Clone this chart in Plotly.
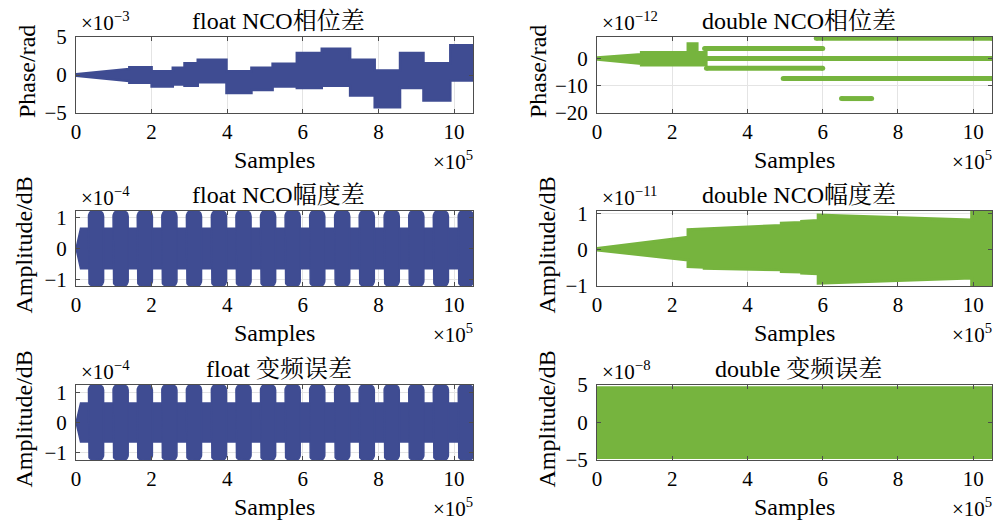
import numpy as np
import plotly.graph_objects as go

W, H = 996, 521
BLUE = "#3f4c92"
GREEN = "#76b43e"
FONT = "Liberation Serif, 'Noto Serif CJK SC', 'Noto Sans CJK SC', serif"

X_SCALE = 1e5          # x values below are in units of 1e5 samples
X_MAX = 10.5

# ---------------- data ----------------
# Panel 1: float NCO phase difference (units 1e-3 rad), stepped envelope
fp_edges = [0, 1.41, 2.0, 2.56, 2.87, 3.22, 3.98, 4.64, 5.2, 5.84, 6.5, 7.25, 7.9, 8.57, 9.19, 9.9, 10.5]
fp_hi = [0.8, 1.03, 0.5, 0.95, 1.56, 2.0, 0.5, 0.95, 1.48, 2.9, 3.46, 2.0, 0.6, 2.9, 1.56, 3.9]
fp_lo = [-0.8, -1.03, -1.5, -1.25, -1.4, -0.95, -2.36, -1.96, -1.5, -1.7, -1.4, -2.7, -4.25, -1.7, -3.37, -0.73]
fp_first = 0.1          # half-width at sample 0

# Panel 2: double NCO phase difference (units 1e-12 rad)
dp_edges = [0, 1.18, 2.42, 2.66, 2.9]
dp_hi_a = [0.3, 2.2, 5.4, 2.2]
dp_hi_b = [1.5, 2.2, 5.4, 2.2]
dp_lo_a = [-0.3, -2.4, -2.4, -2.4]
dp_lo_b = [-1.8, -2.4, -2.4, -2.4]
dp_levels = [7.4, 3.7, 0.0, -3.6, -7.3, -14.7]
dp_start = [5.83, 2.86, 2.86, 2.91, 4.95, 6.5]
dp_end = [10.5, 6.0, 10.5, 6.0, 10.5, 7.3]

# Panel 3: float NCO amplitude difference (units 1e-4 dB)
fa_lobe_start = [0.33, 0.98, 1.62, 2.27, 2.92, 3.58, 4.23, 4.88, 5.53, 6.18, 6.84, 7.49, 8.15, 8.80, 9.45, 10.11]
fa_lobe_width = 0.40
fa_lobe_peak = 1.2
fa_base = 0.65
fa_ramp_end = 0.12

# Panel 4: double NCO amplitude difference (units 1e-11 dB)
dm_edges = [0, 2.42, 2.85, 4.9, 5.44, 5.88, 9.96, 10.5]
dm_hi_a = [0.02, 0.54, 0.58, 0.72, 0.77, 0.95, 1.11]
dm_hi_b = [0.33, 0.56, 0.66, 0.74, 0.80, 0.81, 1.11]
dm_lo_a = [-0.02, -0.48, -0.53, -0.62, -0.66, -0.94, -1.08]
dm_lo_b = [-0.3, -0.50, -0.57, -0.63, -0.68, -0.80, -1.08]

# Panel 5: float conversion error (units 1e-4 dB)
fc_lobe_start = [0.33, 0.98, 1.62, 2.27, 2.92, 3.58, 4.23, 4.88, 5.53, 6.18, 6.84, 7.49, 8.15, 8.80, 9.45, 10.11]
fc_lobe_width = 0.40
fc_lobe_peak = 1.25
fc_base = 0.65
fc_ramp_end = 0.12

# Panel 6: double conversion error (units 1e-8 dB)
dc_edges = [0, 10.5]
dc_hi = [4.75]
dc_lo = [-4.75]

# axis settings per panel
y_ranges = [[-5, 5], [-20, 7.9], [-1.2, 1.2], [-1.02, 1.06], [-1.25, 1.25], [-5, 5]]
y_ticks = [[-5, 0, 5], [-20, -10, 0], [-1, 0, 1], [-1, 0, 1], [-1, 0, 1], [-5, 0, 5]]
y_exp = [-3, -12, -4, -11, -4, -8]
x_ticks = [0, 2, 4, 6, 8, 10]
titles = ["float NCO相位差", "double NCO相位差", "float NCO幅度差", "double NCO幅度差",
          "float 变频误差", "double 变频误差"]
ylabels = ["Phase/rad", "Phase/rad", "Amplitude/dB", "Amplitude/dB", "Amplitude/dB", "Amplitude/dB"]


# ---------------- helpers ----------------
def seg_polygon(edges, hi_a, hi_b, lo_a, lo_b):
    xt, yt, xb, yb = [], [], [], []
    for i in range(len(edges) - 1):
        xt += [edges[i], edges[i + 1]]
        yt += [hi_a[i], hi_b[i]]
        xb += [edges[i], edges[i + 1]]
        yb += [lo_a[i], lo_b[i]]
    return xt + xb[::-1] + [xt[0]], yt + yb[::-1] + [yt[0]]


def rrect(x0, x1, y0, y1, rx, ry, n=7):
    xs, ys = [], []
    centers = [(x1 - rx, y1 - ry, 0), (x0 + rx, y1 - ry, 90), (x0 + rx, y0 + ry, 180), (x1 - rx, y0 + ry, 270)]
    for cx, cy, a0 in centers:
        for t in np.linspace(np.radians(a0), np.radians(a0 + 90), n):
            xs.append(cx + rx * np.cos(t))
            ys.append(cy + ry * np.sin(t))
    xs.append(xs[0]); ys.append(ys[0])
    return xs, ys


fig = go.Figure()


def axname(p, kind):
    return kind if p == 1 else f"{kind}{p}"


def add_poly(p, xs, ys, color, scale, lw=1.5):
    fig.add_trace(go.Scatter(
        x=[None if v is None else v * X_SCALE for v in xs],
        y=[None if v is None else v * scale for v in ys],
        mode="lines", fill="toself", fillcolor=color,
        line=dict(color=color, width=lw), hoverinfo="skip", showlegend=False,
        xaxis=axname(p, "x"), yaxis=axname(p, "y")))


def add_lobes(p, starts, width, peak, base, ramp_end, scale):
    add_poly(p, [0, ramp_end, X_MAX, X_MAX, ramp_end, 0], [0, base, base, -base, -base, 0], BLUE, scale)
    xs, ys = [], []
    for s in starts:
        e = min(s + width, X_MAX + 0.02)
        lx, ly = rrect(s, e, -peak, peak, 0.11, 0.17)
        xs += lx + [None]
        ys += ly + [None]
    add_poly(p, xs, ys, BLUE, scale)


scales = [10.0 ** e for e in y_exp]

# Panel 1
xs, ys = seg_polygon(fp_edges, [fp_first] + fp_hi[1:], fp_hi, [-fp_first] + fp_lo[1:], fp_lo)
add_poly(1, xs, ys, BLUE, scales[0], lw=2.5)

# Panel 2
xs, ys = seg_polygon(dp_edges, dp_hi_a, dp_hi_b, dp_lo_a, dp_lo_b)
add_poly(2, xs, ys, GREEN, scales[1], lw=3)
lx, ly = [], []
for lv, s, e in zip(dp_levels, dp_start, dp_end):
    lx += [s * X_SCALE, e * X_SCALE, None]
    ly += [lv * scales[1], lv * scales[1], None]
fig.add_trace(go.Scatter(x=lx, y=ly, mode="lines+markers",
                         line=dict(color=GREEN, width=5), marker=dict(color=GREEN, size=5),
                         hoverinfo="skip", showlegend=False, xaxis="x2", yaxis="y2"))

# Panel 3
add_lobes(3, fa_lobe_start, fa_lobe_width, fa_lobe_peak, fa_base, fa_ramp_end, scales[2])

# Panel 4
xs, ys = seg_polygon(dm_edges, dm_hi_a, dm_hi_b, dm_lo_a, dm_lo_b)
add_poly(4, xs, ys, GREEN, scales[3], lw=3)

# Panel 5
add_lobes(5, fc_lobe_start, fc_lobe_width, fc_lobe_peak, fc_base, fc_ramp_end, scales[4])

# Panel 6
xs, ys = seg_polygon(dc_edges, dc_hi, dc_hi, dc_lo, dc_lo)
add_poly(6, xs, ys, GREEN, scales[5])

# ---------------- layout ----------------
cols = [(76, 473), (597, 992)]
rows = [(37, 113), (211, 286), (385, 460)]
AXC = "#4d4d4d"
annotations = []


def minus(v):
    return f"{v:g}".replace("-", "−")


for p in range(1, 7):
    r, c = (p - 1) // 2, (p - 1) % 2
    x0, x1 = cols[c]
    y0, y1 = rows[r]
    sc = scales[p - 1]
    common = dict(showline=True, linecolor=AXC, linewidth=1, mirror="ticks",
                  ticks="inside", ticklen=4, tickcolor=AXC, tickwidth=1,
                  showgrid=True, gridcolor="#e4e4e4", gridwidth=1, zeroline=False,
                  automargin=False,
                  tickfont=dict(family=FONT, size=21, color="#000"))
    fig.update_layout(**{
        axname(p, "xaxis"): dict(domain=[x0 / W, x1 / W], anchor=axname(p, "y"),
                                 range=[0, X_MAX * X_SCALE],
                                 tickvals=[t * X_SCALE for t in x_ticks],
                                 ticktext=[minus(t) for t in x_ticks], **common),
        axname(p, "yaxis"): dict(domain=[1 - y1 / H, 1 - y0 / H], anchor=axname(p, "x"),
                                 range=[v * sc for v in y_ranges[p - 1]],
                                 tickvals=[t * sc for t in y_ticks[p - 1]],
                                 ticktext=[minus(t) for t in y_ticks[p - 1]],
                                 ticklabelstandoff=4, **common),
    })
    xc = (x0 + x1) / 2
    tf = dict(family=FONT, size=24, color="#000")
    # title
    annotations.append(dict(x=(xc + 4) / W, y=1 - (y0 - 16) / H, xref="paper", yref="paper",
                            text=titles[p - 1], showarrow=False, font=tf,
                            xanchor="center", yanchor="middle"))
    # exponent
    annotations.append(dict(x=(x0 + 3) / W, y=1 - (y0 - 15) / H, xref="paper", yref="paper",
                            text=f"×10<sup>{minus(y_exp[p - 1])}</sup>", showarrow=False,
                            font=dict(family=FONT, size=21, color="#000"),
                            xanchor="left", yanchor="middle"))
    # x label
    annotations.append(dict(x=xc / W, y=1 - (y1 + 47) / H, xref="paper", yref="paper",
                            text="Samples", showarrow=False, font=tf,
                            xanchor="center", yanchor="middle"))
    annotations.append(dict(x=(x1 + 2) / W, y=1 - (y1 + 47) / H, xref="paper", yref="paper",
                            text="×10<sup>5</sup>", showarrow=False,
                            font=dict(family=FONT, size=21, color="#000"),
                            xanchor="right", yanchor="middle"))
    # y label
    yl_x = (27 if p == 1 else 23) if c == 0 else (538 if p == 2 else 546)
    annotations.append(dict(x=yl_x / W, y=1 - ((y0 + y1) / 2 - 3) / H, xref="paper", yref="paper",
                            text=ylabels[p - 1], showarrow=False, font=tf, textangle=-90,
                            xanchor="center", yanchor="middle"))

fig.update_layout(width=W, height=H,
                  margin=dict(l=0, r=0, t=0, b=0, pad=0, autoexpand=False),
                  paper_bgcolor="white", plot_bgcolor="white",
                  annotations=annotations, showlegend=False)

fig.write_html("out.html", post_script="document.body.style.margin='0';")
